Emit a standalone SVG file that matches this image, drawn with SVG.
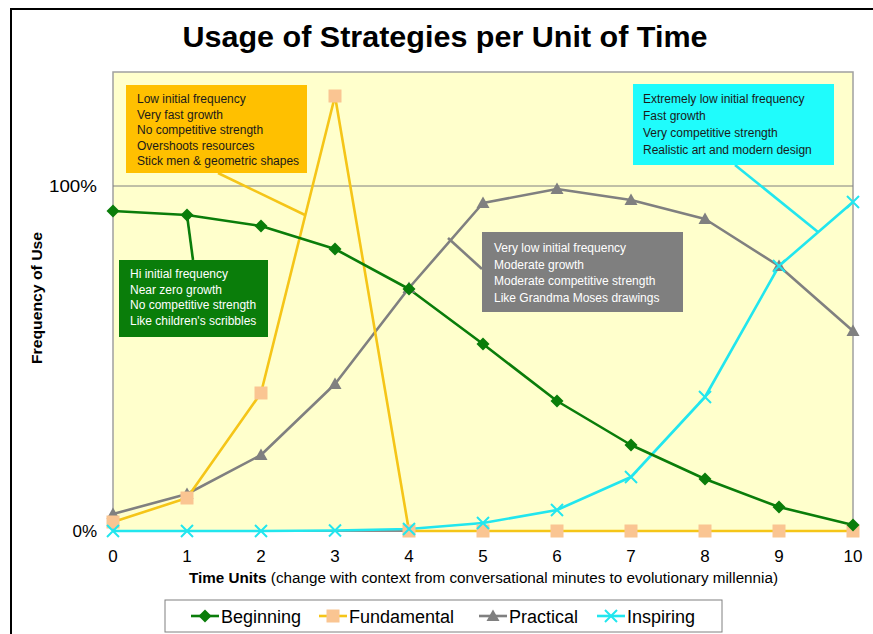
<svg xmlns="http://www.w3.org/2000/svg" width="873" height="634" viewBox="0 0 873 634">
<style>
.ax{font-family:"Liberation Sans",Arial,sans-serif;font-size:17px;fill:#000}
.ann{font-family:"Liberation Sans",Arial,sans-serif;font-size:12px}
.dk{fill:#1a1a1a}
.wt{fill:#ffffff}
.leg{font-family:"Liberation Sans",Arial,sans-serif;font-size:18px;fill:#000}
.s{fill:none;stroke-width:2.6;stroke-linejoin:round}
</style>
<defs>
<path id="dia" d="M0,-6.5 L6.5,0 L0,6.5 L-6.5,0 Z" fill="#0a7d0a"/>
<rect id="sq" x="-6.5" y="-6.5" width="13" height="13" fill="#fac592"/>
<path id="tri" d="M0,-6.5 L6.5,5 L-6.5,5 Z" fill="#808080"/>
<path id="xx" d="M-6,-6 L6,6 M-6,6 L6,-6" stroke="#22e6ee" stroke-width="2" fill="none"/>
</defs>
<rect width="873" height="634" fill="#fff"/>
<path d="M11,634 V9 H873" fill="none" stroke="#000" stroke-width="2"/>
<text x="445" y="47" text-anchor="middle" font-family="Liberation Sans,Arial,sans-serif" font-weight="bold" font-size="29" textLength="525" lengthAdjust="spacingAndGlyphs">Usage of Strategies per Unit of Time</text>
<rect x="113" y="72" width="740" height="459" fill="#ffffcc" stroke="#a0a0a0" stroke-width="1.5"/>
<line x1="113" y1="186" x2="853" y2="186" stroke="#808080" stroke-width="1"/>
<line x1="113" y1="531" x2="853" y2="531" stroke="#606060" stroke-width="1"/>
<text class="ax" x="97" y="192" text-anchor="end" textLength="48" lengthAdjust="spacingAndGlyphs">100%</text>
<text class="ax" x="97" y="537" text-anchor="end">0%</text>
<text x="42" y="298" transform="rotate(-90 42 298)" text-anchor="middle" font-family="Liberation Sans,Arial,sans-serif" font-weight="bold" font-size="15" textLength="132" lengthAdjust="spacingAndGlyphs">Frequency of Use</text>
<g class="ax" text-anchor="middle">
<text x="113" y="562">0</text><text x="187" y="562">1</text><text x="261" y="562">2</text><text x="335" y="562">3</text><text x="409" y="562">4</text><text x="483" y="562">5</text><text x="557" y="562">6</text><text x="631" y="562">7</text><text x="705" y="562">8</text><text x="779" y="562">9</text><text x="853" y="562">10</text>
</g>
<text x="189" y="583" font-family="Liberation Sans,Arial,sans-serif" font-size="14" textLength="589" lengthAdjust="spacingAndGlyphs"><tspan font-weight="bold">Time Units</tspan> (change with context from conversational minutes to evolutionary millennia)</text>

<g id="series">
<polyline class="s" stroke="#22e6ee" points="113,531 187,531 261,531 335,530.5 409,529 483,523 557,510 631,477 705,397 779,266 853,202"/>
<polyline class="s" stroke="#808080" points="113,514 187,494 261,455 335,384 409,288 483,203 557,189 631,200 705,219 779,266 853,331"/>
<polyline class="s" stroke="#f5c518" points="113,522 187,498 261,393 335,96 409,531 483,531 557,531 631,531 705,531 779,531 853,531"/>
<polyline class="s" stroke="#0a7d0a" points="113,211 187,215 261,226 335,249 409,289 483,344 557,401 631,445 705,479 779,507 853,525"/>
<g>
<use href="#tri" x="113" y="514"/><use href="#tri" x="187" y="494"/><use href="#tri" x="261" y="455"/><use href="#tri" x="335" y="384"/><use href="#tri" x="409" y="288"/><use href="#tri" x="483" y="203"/><use href="#tri" x="557" y="189"/><use href="#tri" x="631" y="200"/><use href="#tri" x="705" y="219"/><use href="#tri" x="779" y="266"/><use href="#tri" x="853" y="331"/>
</g>
<g>
<use href="#sq" x="113" y="522"/><use href="#sq" x="187" y="498"/><use href="#sq" x="261" y="393"/><use href="#sq" x="335" y="96"/><use href="#sq" x="409" y="531"/><use href="#sq" x="483" y="531"/><use href="#sq" x="557" y="531"/><use href="#sq" x="631" y="531"/><use href="#sq" x="705" y="531"/><use href="#sq" x="779" y="531"/><use href="#sq" x="853" y="531"/>
</g>
<g>
<use href="#dia" x="113" y="211"/><use href="#dia" x="187" y="215"/><use href="#dia" x="261" y="226"/><use href="#dia" x="335" y="249"/><use href="#dia" x="409" y="289"/><use href="#dia" x="483" y="344"/><use href="#dia" x="557" y="401"/><use href="#dia" x="631" y="445"/><use href="#dia" x="705" y="479"/><use href="#dia" x="779" y="507"/><use href="#dia" x="853" y="525"/>
</g>
<g>
<use href="#xx" x="113" y="531"/><use href="#xx" x="187" y="531"/><use href="#xx" x="261" y="531"/><use href="#xx" x="335" y="530.5"/><use href="#xx" x="409" y="529"/><use href="#xx" x="483" y="523"/><use href="#xx" x="557" y="510"/><use href="#xx" x="631" y="477"/><use href="#xx" x="705" y="397"/><use href="#xx" x="779" y="266"/><use href="#xx" x="853" y="202"/>
</g>
</g>

<g id="connectors" fill="none" stroke-width="2.6">
<line x1="218" y1="173" x2="305" y2="215" stroke="#f5c518"/>
<line x1="187" y1="215" x2="193" y2="260" stroke="#0a7d0a"/>
<line x1="448" y1="238" x2="482" y2="269" stroke="#808080"/>
<line x1="735" y1="165" x2="818" y2="232" stroke="#22e6ee"/>
</g>

<g id="note-fundamental">
<rect x="126" y="85" width="181" height="88" fill="#ffc000"/>
<g class="ann dk">
<text x="137" y="103">Low initial frequency</text>
<text x="137" y="118.5">Very fast growth</text>
<text x="137" y="134">No competitive strength</text>
<text x="137" y="149.5">Overshoots resources</text>
<text x="137" y="165">Stick men &amp; geometric  shapes</text>
</g>
</g>
<g id="note-inspiring">
<rect x="633" y="84" width="201" height="81" fill="#1ffcfc"/>
<g class="ann dk">
<text x="643" y="103">Extremely low initial frequency</text>
<text x="643" y="120">Fast growth</text>
<text x="643" y="137">Very competitive strength</text>
<text x="643" y="154">Realistic art and modern design</text>
</g>
</g>
<g id="note-beginning">
<rect x="119" y="260" width="149" height="77" fill="#0a7d0a"/>
<g class="ann wt">
<text x="130" y="278">Hi initial frequency</text>
<text x="130" y="293.5">Near zero growth</text>
<text x="130" y="309">No competitive strength</text>
<text x="130" y="324.5">Like children's scribbles</text>
</g>
</g>
<g id="note-practical">
<rect x="482" y="232" width="201" height="80" fill="#7f7f7f"/>
<g class="ann wt">
<text x="494" y="252">Very low initial frequency</text>
<text x="494" y="268.5">Moderate growth</text>
<text x="494" y="285">Moderate competitive strength</text>
<text x="494" y="301.5">Like Grandma Moses drawings</text>
</g>
</g>

<g id="legend">
<rect x="165" y="600" width="557" height="32" fill="#fff" stroke="#808080" stroke-width="1"/>
<line x1="191" y1="616" x2="219" y2="616" stroke="#0a7d0a" stroke-width="2.6"/><use href="#dia" x="205" y="616"/>
<text class="leg" x="221" y="623">Beginning</text>
<line x1="319" y1="616" x2="347" y2="616" stroke="#f5c518" stroke-width="2.6"/><use href="#sq" x="333" y="616"/>
<text class="leg" x="349" y="623">Fundamental</text>
<line x1="479" y1="616" x2="507" y2="616" stroke="#808080" stroke-width="2.6"/><use href="#tri" x="493" y="616"/>
<text class="leg" x="509" y="623">Practical</text>
<line x1="597" y1="616" x2="625" y2="616" stroke="#22e6ee" stroke-width="2.6"/><use href="#xx" x="611" y="616"/>
<text class="leg" x="627" y="623">Inspiring</text>
</g>
</svg>
